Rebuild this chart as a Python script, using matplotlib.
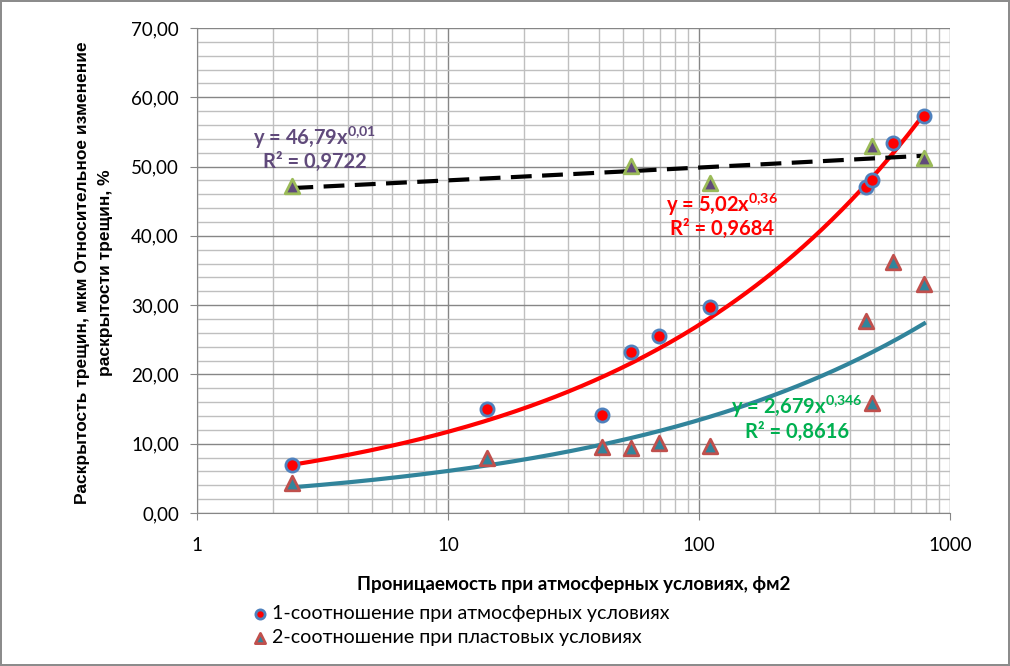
import numpy as np
import matplotlib
matplotlib.use("Agg")
import matplotlib.pyplot as plt
from matplotlib.ticker import FixedLocator, MultipleLocator, FuncFormatter

# permeability at atmospheric conditions, fm2
perm = [2.4, 14.3, 41.1, 53.6, 69.3, 110.6, 461, 490, 591, 788]
# series 1: crack opening at atmospheric conditions
open_atm = [7.0, 15.0, 14.1, 23.3, 25.5, 29.7, 47.1, 48.0, 53.4, 57.3]
# series 2: crack opening at reservoir conditions
open_res = [4.4, 7.9, 9.5, 9.4, 10.1, 9.7, 27.7, 15.9, 36.2, 33.0]
# relative change (not in legend)
perm_rel = [2.4, 53.6, 110.6, 490, 788]
rel_change = [47.2, 50.1, 47.6, 52.9, 51.2]

labels = ["1-соотношение при атмосферных условиях",
          "2-соотношение при пластовых условиях"]

plt.rcParams["mathtext.fontset"] = "custom"
plt.rcParams["mathtext.rm"] = "Lato"
plt.rcParams["mathtext.bf"] = "Lato:bold"


def power_fit(x, y):
    b, la = np.polyfit(np.log(x), np.log(y), 1)
    return np.exp(la), b


fig = plt.figure(figsize=(10.1, 6.66), dpi=100)
fig.patch.set_edgecolor("#8c8c8c")
fig.patch.set_linewidth(1.5)
ax = fig.add_axes([0.195, 0.2297, 0.7456, 0.7283])

xs = np.logspace(np.log10(min(perm)), np.log10(max(perm)), 200)
for x, y, color, ls in [(perm, open_atm, "#ff0000", "-"),
                        (perm, open_res, "#31849b", "-"),
                        (perm_rel, rel_change, "black", (0, (5, 2.5)))]:
    a, b = power_fit(x, y)
    ax.plot(xs, a * xs ** b, color=color, lw=3, ls=ls, zorder=3)

ax.scatter(perm, open_atm, s=90, marker="o", color="#ff0000",
           edgecolors="#4f81bd", linewidths=2, zorder=4, label=labels[0])
ax.scatter(perm, open_res, s=110, marker="^", color="#31859c",
           edgecolors="#c0504d", linewidths=2, zorder=4, label=labels[1])
ax.scatter(perm_rel, rel_change, s=110, marker="^", color="#604a7b",
           edgecolors="#9bbb59", linewidths=2, zorder=4)

ax.set_xscale("log")
ax.set_xlim(1, 1000)
ax.set_ylim(0, 70)
ax.xaxis.set_major_locator(FixedLocator([1, 10, 100, 1000]))
ax.xaxis.set_major_formatter(FuncFormatter(lambda v, p: f"{v:g}"))
ax.xaxis.set_minor_locator(FixedLocator(
    [m * 10 ** d for d in range(3) for m in range(2, 10)]))
ax.xaxis.set_minor_formatter(FuncFormatter(lambda v, p: ""))
ax.yaxis.set_major_locator(MultipleLocator(10))
ax.yaxis.set_minor_locator(MultipleLocator(2))
ax.yaxis.set_major_formatter(FuncFormatter(lambda v, p: f"{v:.2f}".replace(".", ",")))
ax.grid(which="major", color="#868686", lw=1)
ax.grid(which="minor", color="#bfbfbf", lw=1)
ax.set_axisbelow(True)
for s in ["top", "right"]:
    ax.spines[s].set_visible(False)
for s in ["left", "bottom"]:
    ax.spines[s].set_color("#868686")
ax.tick_params(which="major", length=5, color="#868686", labelsize=13.5)
ax.tick_params(which="minor", length=0)
ax.tick_params(axis="x", pad=12)
ax.tick_params(axis="y", pad=8)
for t in ax.get_xticklabels() + ax.get_yticklabels():
    t.set_fontfamily("Lato")

txt = dict(fontfamily="Lato", fontweight="bold", fontsize=14.5,
           ha="center", va="center")
ax.text(2.95, 54.1, "y = 46,79x$^{\\mathbf{0{,}01}}$", color="#604a7b", **txt)
ax.text(2.95, 50.6, "R² = 0,9722", color="#604a7b", **txt)
ax.text(123, 44.4, "y = 5,02x$^{\\mathbf{0{,}36}}$", color="#ff0000", **txt)
ax.text(123, 41.0, "R² = 0,9684", color="#ff0000", **txt)
ax.text(245, 15.3, "y = 2,679x$^{\\mathbf{0{,}346}}$", color="#00b050", **txt)
ax.text(245, 11.7, "R² = 0,8616", color="#00b050", **txt)

ax.set_xlabel("Проницаемость при атмосферных условиях, фм2",
              fontfamily="Lato", fontweight="bold", fontsize=13.5,
              labelpad=16)
fig.text(0.093, 0.59,
         "Раскрытость трещин, мкм Относительное изменение\nраскрытости трещин, %",
         rotation=90, ha="center", va="center", multialignment="center",
         fontfamily="Liberation Sans", fontweight="bold", fontsize=12.5,
         linespacing=1.6)

fig.legend(loc="upper left", bbox_to_anchor=(0.24, 0.103), frameon=False,
           prop={"family": "Lato", "size": 14.1}, handletextpad=0.1,
           labelspacing=0.33, handlelength=1.0, borderaxespad=0,
           markerscale=0.7)

fig.savefig("out.png", dpi=100, edgecolor=fig.get_edgecolor())
